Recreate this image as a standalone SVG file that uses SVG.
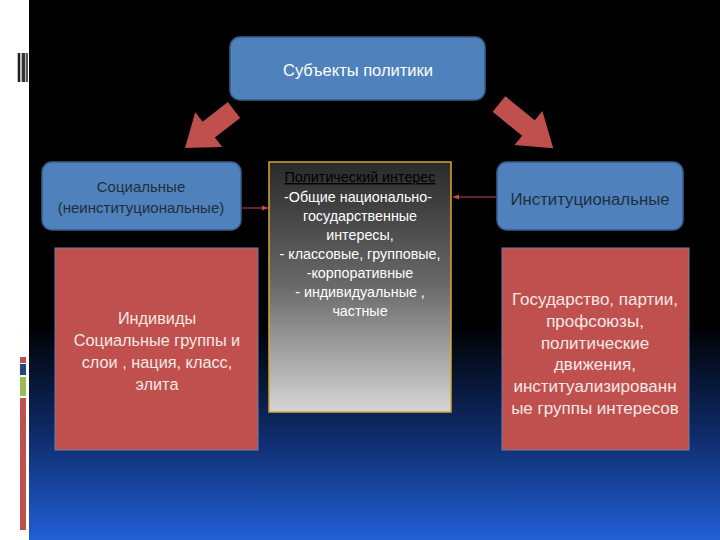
<svg xmlns="http://www.w3.org/2000/svg" width="720" height="540" viewBox="0 0 720 540">
<defs>
<linearGradient id="bg" x1="0" y1="0" x2="0" y2="1">
<stop offset="0" stop-color="#000"/>
<stop offset="0.6" stop-color="#000"/>
<stop offset="0.8" stop-color="#0e2a66"/>
<stop offset="1" stop-color="#215fd6"/>
</linearGradient>
<linearGradient id="mid" x1="0" y1="0" x2="0" y2="1">
<stop offset="0" stop-color="#2a2a2a"/>
<stop offset="0.5" stop-color="#6a6a6a"/>
<stop offset="1" stop-color="#d6d6d6"/>
</linearGradient>
<marker id="ah" viewBox="0 0 10 10" refX="10" refY="5" markerWidth="6" markerHeight="6" orient="auto">
<path d="M0,1 L10,5 L0,9 z" fill="#c0504d"/>
</marker>
<style>
.blue{fill:#4f81bd;stroke:#385d8a;stroke-width:1.5}
.red{fill:#c0504d;stroke:#6d7fa3;stroke-width:1}
.big{fill:#c0504d}
text{font-family:"Liberation Sans","Noto Sans",sans-serif;text-anchor:middle}
.w{fill:#ffffff;font-size:16.5px}
.dk{fill:#1f2f3a;font-size:15px}
.rt{fill:#f6e8e6;font-size:16.3px}
.rt2{fill:#f6e8e6;font-size:17px}
.mt{fill:#ffffff;font-size:14.3px}
.conn{stroke:#c0504d;stroke-width:1;fill:none}
</style>
</defs>
<rect x="0" y="0" width="720" height="540" fill="url(#bg)"/>
<rect x="0" y="0" width="29" height="540" fill="#ffffff"/>
<g id="deco">
<rect x="17" y="53" width="11" height="29" fill="#bbb"/>
<rect x="18" y="53" width="2" height="29" fill="#222"/>
<rect x="22" y="53" width="3" height="29" fill="#333"/>
<rect x="26" y="53" width="2" height="29" fill="#555"/>
<rect x="20" y="357" width="6" height="6" fill="#c0504d"/>
<rect x="20" y="364" width="6" height="11" fill="#1f497d"/>
<rect x="20" y="377" width="6" height="19" fill="#9bbb59"/>
<rect x="20" y="398" width="6" height="132" fill="#c0504d"/>
</g>
<g id="connectors">
<polygon class="big" transform="translate(234,110) rotate(142.2)" points="0,-10 32,-10 32,-22 62,0 32,22 32,10 0,10"/>
<polygon class="big" transform="translate(499,104) rotate(39.2)" points="0,-10 38,-10 38,-22 70,0 38,22 38,10 0,10"/>
<line class="conn" x1="242" y1="208" x2="268" y2="208" marker-end="url(#ah)"/>
<line class="conn" x1="496" y1="197" x2="453" y2="197" marker-end="url(#ah)"/>
</g>
<g id="n-subjects">
<rect class="blue" x="230" y="37" width="255" height="63" rx="10"/>
<text class="w" x="358" y="76">Субъекты политики</text>
</g>
<g id="n-social">
<rect class="blue" x="42" y="162" width="199" height="68" rx="10"/>
<text class="dk" x="141" y="192">Социальные</text>
<text class="dk" x="141" y="213">(неинституциональные)</text>
</g>
<g id="n-inst">
<rect class="blue" x="497" y="162" width="186" height="68" rx="10"/>
<text class="dk" x="590" y="205" style="font-size:16.8px">Институциональные</text>
</g>
<g id="n-interest">
<rect x="269" y="162" width="182" height="250" fill="url(#mid)" stroke="#d4a72c" stroke-width="1.5"/>
<text class="mt" x="360" y="182" style="fill:#000;text-decoration:underline">Политический интерес</text>
<text class="mt" x="358" y="202">-Общие национально-</text>
<text class="mt" x="360" y="221">государственные</text>
<text class="mt" x="360" y="240">интересы,</text>
<text class="mt" x="360" y="259">- классовые, групповые,</text>
<text class="mt" x="360" y="278">-корпоративные</text>
<text class="mt" x="360" y="297">- индивидуальные ,</text>
<text class="mt" x="360" y="316">частные</text>
</g>
<g id="n-individuals">
<rect class="red" x="55" y="248" width="203" height="202"/>
<text class="rt" x="157" y="324">Индивиды</text>
<text class="rt" x="157" y="346">Социальные группы и</text>
<text class="rt" x="157" y="368">слои , нация, класс,</text>
<text class="rt" x="157" y="390">элита</text>
</g>
<g id="n-state">
<rect class="red" x="502" y="248" width="187" height="202"/>
<text class="rt2" x="595" y="305">Государство, партии,</text>
<text class="rt2" x="595" y="327">профсоюзы,</text>
<text class="rt2" x="595" y="349">политические</text>
<text class="rt2" x="595" y="370">движения,</text>
<text class="rt2" x="595" y="392">институализированн</text>
<text class="rt2" x="595" y="414">ые группы интересов</text>
</g>
</svg>
